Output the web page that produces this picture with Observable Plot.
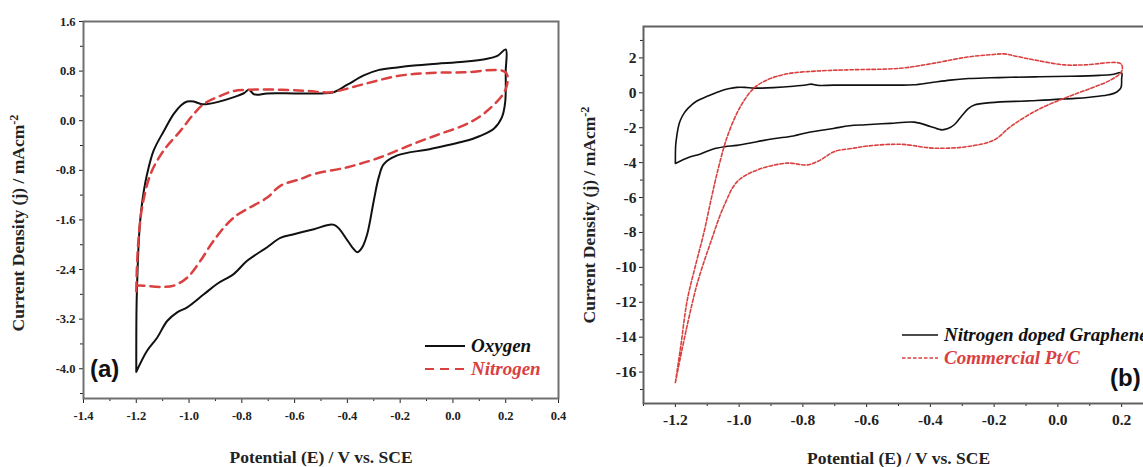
<!DOCTYPE html>
<html><head><meta charset="utf-8">
<script src="https://cdn.jsdelivr.net/npm/d3@7"></script>
<script src="https://cdn.jsdelivr.net/npm/@observablehq/plot@0.6"></script>
<style>
html,body{margin:0;padding:0;background:#fff;overflow:hidden;}
#wrap{position:relative;width:1143px;height:467px;overflow:hidden;background:#fff;}
#pa{position:absolute;left:0;top:0;width:600px;height:467px;}
#pb{position:absolute;left:570px;top:0;width:600px;height:467px;}
#wrap svg{max-width:none !important;display:block;}
</style></head><body><div id="wrap"><div id="pa"></div><div id="pb"></div></div>
<script>
// ---- Data (potential V vs SCE, current density mA/cm^2), in scan order ----
const oxyV = [-1.2,-1.199,-1.195,-1.19,-1.184,-1.172,-1.159,-1.134,-1.096,-1.058,-1.03,-1.007,-0.982,-0.955,-0.93,-0.893,-0.83,-0.79,-0.774,-0.755,-0.742,-0.704,-0.6,-0.5,-0.452,-0.4,-0.338,-0.28,-0.211,-0.148,-0.06,0.04,0.13,0.17,0.2,0.2,0.198,0.185,0.155,0.1,0.054,-0.085,-0.211,-0.262,-0.281,-0.3,-0.325,-0.345,-0.363,-0.38,-0.4,-0.45,-0.527,-0.603,-0.654,-0.704,-0.78,-0.83,-0.893,-0.944,-1.007,-1.045,-1.083,-1.121,-1.159,-1.2];
const oxyJ = [-4.05,-3.0,-2.4,-1.9,-1.56,-1.15,-0.86,-0.48,-0.17,0.11,0.25,0.31,0.31,0.27,0.27,0.30,0.38,0.45,0.50,0.43,0.42,0.44,0.44,0.44,0.46,0.58,0.73,0.82,0.86,0.89,0.92,0.95,1.0,1.05,1.15,0.8,0.3,0.05,-0.13,-0.25,-0.32,-0.455,-0.56,-0.70,-0.91,-1.29,-1.83,-2.05,-2.12,-2.05,-1.93,-1.68,-1.75,-1.83,-1.89,-2.04,-2.26,-2.47,-2.63,-2.80,-3.01,-3.09,-3.23,-3.50,-3.71,-4.05];
const n2V = [-1.2,-1.197,-1.19,-1.178,-1.146,-1.096,-1.032,-0.982,-0.944,-0.893,-0.83,-0.77,-0.65,-0.55,-0.464,-0.338,-0.211,-0.085,0.041,0.2,0.2,0.13,0.054,-0.047,-0.148,-0.275,-0.4,-0.527,-0.578,-0.654,-0.704,-0.83,-0.906,-0.957,-1.007,-1.058,-1.108,-1.172,-1.2];
const n2J = [-2.75,-2.3,-1.83,-1.40,-0.86,-0.48,-0.16,0.11,0.27,0.38,0.48,0.50,0.50,0.48,0.46,0.59,0.72,0.77,0.78,0.78,0.51,0.16,-0.05,-0.21,-0.37,-0.59,-0.75,-0.86,-0.94,-1.05,-1.24,-1.56,-1.93,-2.26,-2.53,-2.66,-2.68,-2.66,-2.66];
// panel (b): Nitrogen doped Graphene uses the same O2 scan as oxyV/oxyJ
const ptV = [-1.2,-1.183,-1.163,-1.137,-1.111,-1.089,-1.069,-1.037,-0.996,-0.954,-0.912,-0.849,-0.744,-0.65,-0.493,-0.388,-0.284,-0.2,-0.169,-0.127,-0.064,0.02,0.083,0.198,0.2,0.166,0.103,0.02,-0.064,-0.148,-0.2,-0.284,-0.388,-0.493,-0.598,-0.64,-0.702,-0.744,-0.786,-0.849,-0.943,-1.006,-1.048,-1.09,-1.131,-1.165,-1.2];
const ptJ = [-16.6,-14.5,-11.9,-9.9,-8.05,-6.2,-4.6,-2.5,-0.79,0.26,0.74,1.09,1.26,1.32,1.41,1.70,2.05,2.2,2.23,2.08,1.85,1.60,1.60,1.66,1.22,0.74,0.26,-0.31,-0.98,-1.93,-2.70,-3.08,-3.17,-2.95,-3.05,-3.17,-3.37,-3.84,-4.13,-4.03,-4.42,-5.09,-6.5,-8.6,-10.9,-13.5,-16.6];

// ---- Ticks ----
const aXMajor = [-1.4,-1.2,-1.0,-0.8,-0.6,-0.4,-0.2,0.0,0.2,0.4];
const aXMinor = [-1.3,-1.1,-0.9,-0.7,-0.5,-0.3,-0.1,0.1,0.3];
const aYMajor = [1.6,0.8,0.0,-0.8,-1.6,-2.4,-3.2,-4.0];
const aYMinor = [1.2,0.4,-0.4,-1.2,-2.0,-2.8,-3.6,-4.4];
const bXMajor = [-1.2,-1.0,-0.8,-0.6,-0.4,-0.2,0.0,0.2];
const bXMinor = [-1.3,-1.1,-0.9,-0.7,-0.5,-0.3,-0.1,0.1,0.3];
const bYMajor = [2,0,-2,-4,-6,-8,-10,-12,-14,-16];
const bYMinor = [3,1,-1,-3,-5,-7,-9,-11,-13,-15,-17];

const xLabel = "Potential (E) / V vs. SCE";
const yLabel = "Current Density (j) / mAcm";
const legendA = ["Oxygen", "Nitrogen"];
const legendB = ["Nitrogen doped Graphene", "Commercial Pt/C"];

const serif = "'Liberation Serif','Times New Roman',serif";
const RED = "#d9403f";
const f1 = d => (+d).toFixed(1);
const blank = () => "";

function fixLabels(svg, ySize, xSize, yShift) {
  const g = d3.select(svg).select("g[aria-label='y-axis label']");
  const t = g.select("text");
  t.text(null).style("font-size", ySize);
  t.append("tspan").text(yLabel);
  t.append("tspan").attr("dy", "-0.5em").style("font-size", "0.7em").text("-2");
  if (yShift) g.attr("transform", ((g.attr("transform") || "") + ` translate(0,${yShift})`).trim());
  d3.select(svg).select("g[aria-label='x-axis label'] text").text(xLabel).style("font-size", xSize);
}

function legend(svg, x, y, items, dash, sw, fs, len, gap) {
  const g = d3.select(svg).append("g").attr("text-anchor", "start");
  items.forEach((name, i) => {
    const yy = y + i * gap;
    g.append("line").attr("x1", x).attr("x2", x + len).attr("y1", yy).attr("y2", yy)
      .attr("stroke", i ? RED : "#111").attr("stroke-width", sw)
      .attr("stroke-dasharray", i ? dash : null);
    g.append("text").attr("x", x + len + 6).attr("y", yy + 6)
      .attr("fill", i ? RED : "#111").attr("font-family", serif)
      .attr("font-style", "italic").attr("font-weight", "bold")
      .style("font-size", fs).text(name);
  });
}

function panelTag(svg, x, y, s) {
  d3.select(svg).append("text").attr("x", x).attr("y", y).attr("text-anchor", "start")
    .attr("font-family", "'Liberation Sans',Arial,sans-serif").attr("font-weight", "bold")
    .style("font-size", "24px").attr("fill", "#111").text(s);
}

// ---- Panel (a) ----
const A = Plot.plot({
  width: 600, height: 467,
  marginLeft: 83, marginRight: 42, marginTop: 21, marginBottom: 69,
  style: {fontFamily: serif, fontWeight: "bold", fontSize: "12.5px", background: "white", color: "#222"},
  x: {domain: [-1.4, 0.4]},
  y: {domain: [-4.48, 1.6]},
  marks: [
    Plot.axisX(aXMinor, {tickSize: 3, tickFormat: blank, label: null}),
    Plot.axisX(aXMajor, {tickSize: 5, tickPadding: 8, tickFormat: f1, label: xLabel, labelAnchor: "center", labelOffset: 64}),
    Plot.axisY(aYMajor, {tickSize: 4, tickPadding: 4, tickFormat: f1, label: yLabel, labelAnchor: "center", labelOffset: 72}),
    Plot.axisY(aYMinor, {tickSize: 3, tickFormat: blank, label: null}),
    Plot.line(oxyV, {x: oxyV, y: oxyJ, stroke: "#111", strokeWidth: 2, curve: "catmull-rom"}),
    Plot.line(n2V, {x: n2V, y: n2J, stroke: RED, strokeWidth: 2.5, strokeDasharray: "9,6", curve: "catmull-rom"}),
    Plot.frame({stroke: "#707070", strokeWidth: 2})
  ]
});
fixLabels(A, "17.5px", "17.5px", 13);
legend(A, 425, 346, legendA, "9,6", 2.2, "19px", 40, 23);
panelTag(A, 90, 377, "(a)");
document.getElementById("pa").appendChild(A);

// ---- Panel (b) ----
const B = Plot.plot({
  width: 600, height: 467,
  marginLeft: 73, marginRight: 17, marginTop: 26, marginBottom: 64,
  style: {fontFamily: serif, fontWeight: "bold", fontSize: "15.5px", background: "white", color: "#222"},
  x: {domain: [-1.3, 0.3]},
  y: {domain: [-17.8, 3.8]},
  marks: [
    Plot.axisX(bXMinor, {tickSize: 3, tickFormat: blank, label: null}),
    Plot.axisX(bXMajor, {tickSize: 4, tickPadding: 6, tickFormat: f1, label: xLabel, labelAnchor: "center", labelOffset: 60}),
    Plot.axisY(bYMajor, {tickSize: 4, tickPadding: 3, tickFormat: d => String(d), label: yLabel, labelAnchor: "center", labelOffset: 61}),
    Plot.axisY(bYMinor, {tickSize: 3, tickFormat: blank, label: null}),
    Plot.line(oxyV, {x: oxyV, y: oxyJ, stroke: "#111", strokeWidth: 1.6, curve: "catmull-rom"}),
    Plot.line(ptV, {x: ptV, y: ptJ, stroke: RED, strokeWidth: 1.6, strokeDasharray: "3.5,2", curve: "catmull-rom"}),
    Plot.frame({stroke: "#606060", strokeWidth: 2})
  ]
});
fixLabels(B, "17.5px", "17.5px", 0);
legend(B, 332, 335, legendB, "3.5,2", 1.6, "19px", 36, 23);
panelTag(B, 540, 386, "(b)");
document.getElementById("pb").appendChild(B);
</script>
</body></html>
